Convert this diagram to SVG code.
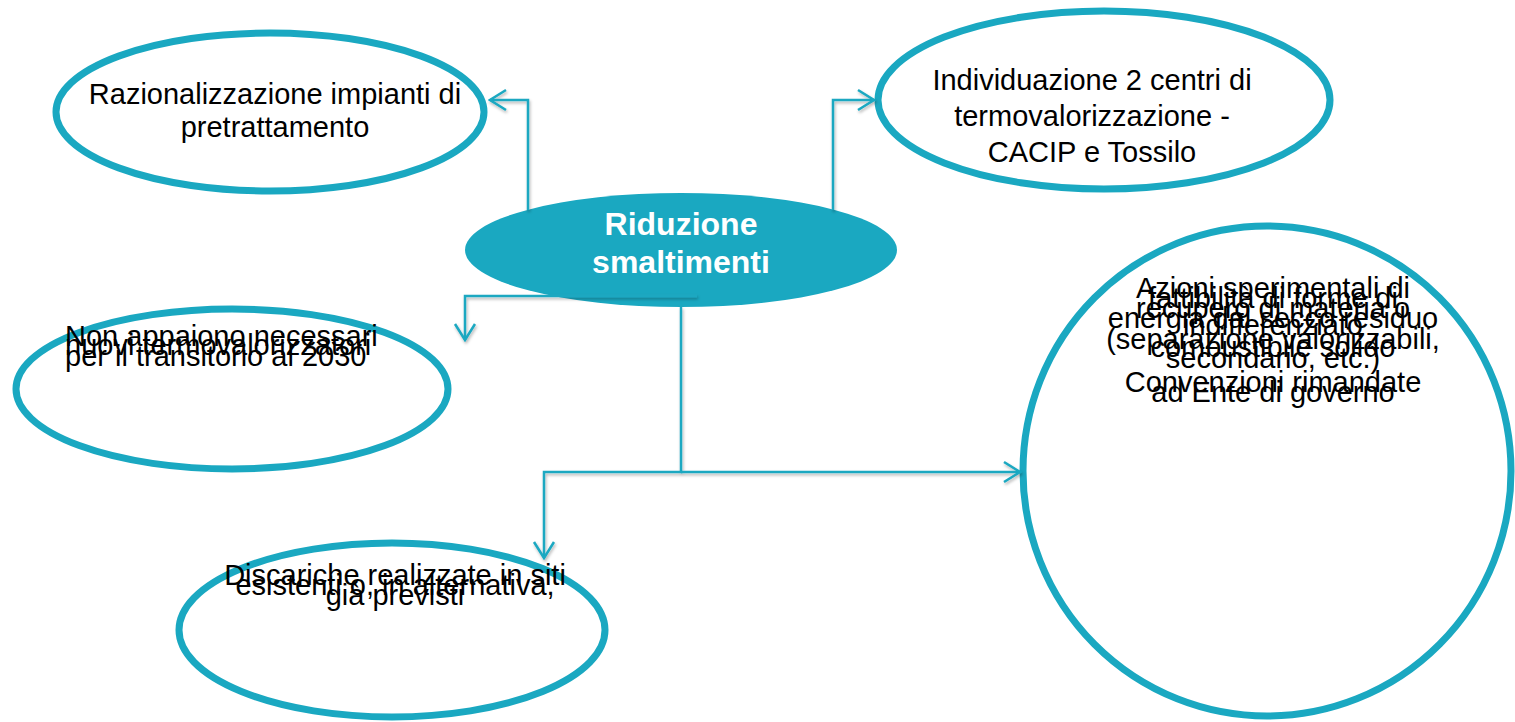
<svg xmlns="http://www.w3.org/2000/svg" width="1515" height="722" viewBox="0 0 1515 722">
  <defs>
    <style>
      .ring { fill: #ffffff; stroke: #1aa8c1; stroke-width: 7; }
      .hub { fill: #1aa8c1; stroke: none; }
      .t { font-family: "Liberation Sans", Arial, sans-serif; font-size: 29px; fill: #000000; text-anchor: middle; }
      .tl { text-anchor: start; }
      .hubt { font-family: "Liberation Sans", Arial, sans-serif; font-size: 32px; font-weight: bold; fill: #ffffff; text-anchor: middle; }
      .conn { fill: none; stroke: #1aa8c1; stroke-width: 2.5; }
    </style>
    <filter id="sh" x="-10%" y="-10%" width="120%" height="120%">
      <feDropShadow dx="1" dy="2" stdDeviation="1.5" flood-color="#000000" flood-opacity="0.3"/>
    </filter>
    <marker id="arr" viewBox="0 0 20 24" refX="18" refY="12" markerWidth="20" markerHeight="24" markerUnits="userSpaceOnUse" orient="auto">
      <path d="M2,2 L18,12 L2,22" fill="none" stroke="#1aa8c1" stroke-width="2.5"/>
    </marker>
  </defs>

  <g id="node-razionalizzazione">
    <ellipse class="ring" cx="270" cy="112" rx="214" ry="79"/>
    <text class="t" x="275" y="104">Razionalizzazione impianti di</text>
    <text class="t" x="275" y="137">pretrattamento</text>
  </g>

  <g id="node-individuazione">
    <ellipse class="ring" cx="1104" cy="100" rx="226" ry="89"/>
    <text class="t" x="1092" y="90">Individuazione 2 centri di</text>
    <text class="t" x="1092" y="126">termovalorizzazione -</text>
    <text class="t" x="1092" y="162">CACIP e Tossilo</text>
  </g>

  <g id="node-non-appaiono">
    <ellipse class="ring" cx="232" cy="389" rx="216" ry="80"/>
    <text class="t tl" x="65" y="346">Non appaiono necessari</text>
    <text class="t tl" x="65" y="355">nuovi termovalorizzatori</text>
    <text class="t tl" x="65" y="366">per il transitorio al 2030</text>
  </g>

  <g id="node-discariche">
    <ellipse class="ring" cx="392" cy="630" rx="213" ry="87"/>
    <text class="t" x="395" y="585">Discariche realizzate in siti</text>
    <text class="t" x="395" y="595">esistenti o, in alternativa,</text>
    <text class="t" x="395" y="605">già previsti</text>
  </g>

  <g id="node-azioni">
    <ellipse class="ring" cx="1267" cy="471" rx="244" ry="245"/>
    <text class="t" x="1273" y="298">Azioni sperimentali di</text>
    <text class="t" x="1273" y="308">fattibilità di forme di</text>
    <text class="t" x="1273" y="318">recupero di materia o</text>
    <text class="t" x="1273" y="328">energia dal secco residuo</text>
    <text class="t" x="1273" y="335">indifferenziato</text>
    <text class="t" x="1273" y="349">(separazione valorizzabili,</text>
    <text class="t" x="1273" y="357">combustibile solido</text>
    <text class="t" x="1273" y="368">secondario, etc.)</text>
    <text class="t" x="1273" y="392">Convenzioni rimandate</text>
    <text class="t" x="1273" y="402">ad Ente di governo</text>
  </g>

  <g id="node-riduzione">
    <ellipse class="hub" cx="681" cy="250" rx="216" ry="57"/>
    <text class="hubt" x="681" y="235">Riduzione</text>
    <text class="hubt" x="681" y="273">smaltimenti</text>
  </g>

  <g id="connectors" filter="url(#sh)">
    <path class="conn" d="M528,210 L528,100 L490,100" marker-end="url(#arr)"/>
    <path class="conn" d="M833,210 L833,100 L874,100" marker-end="url(#arr)"/>
    <path class="conn" d="M697,296 L465,296 L465,340" marker-end="url(#arr)"/>
    <path class="conn" d="M681,307 L681,472 L544,472 L544,558" marker-end="url(#arr)"/>
    <path class="conn" d="M681,472 L1020,472" marker-end="url(#arr)"/>
  </g>
</svg>
